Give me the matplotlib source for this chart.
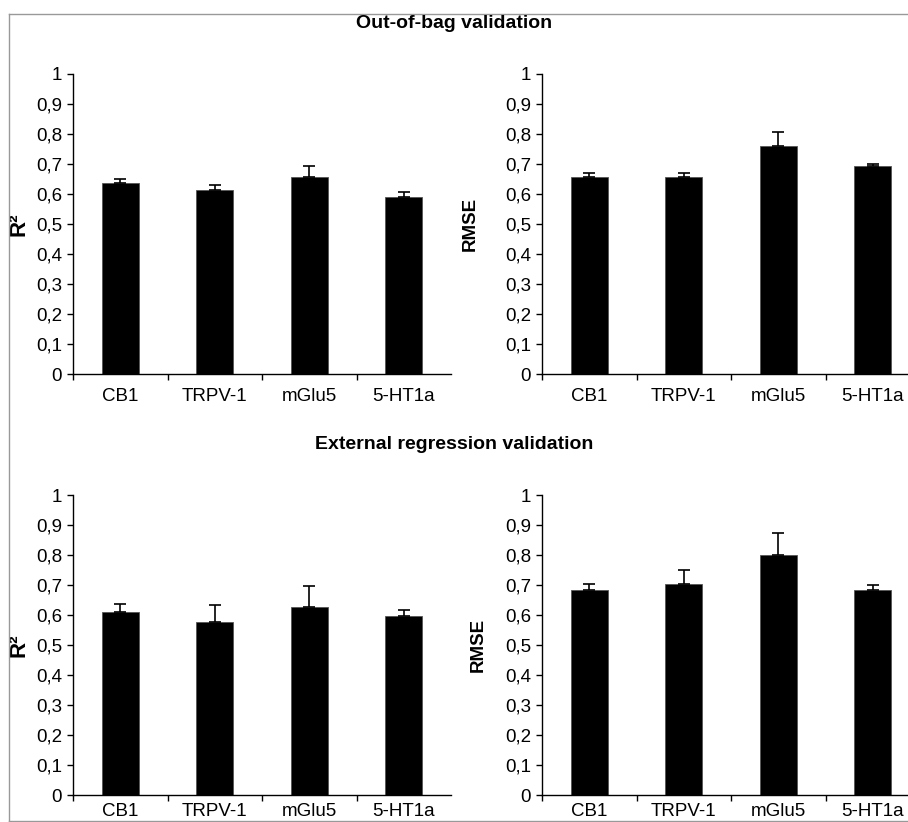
import matplotlib
matplotlib.use("Agg")
import matplotlib.pyplot as plt
from matplotlib.lines import Line2D
import numpy as np

plt.rcParams["font.family"] = ["Liberation Sans", "DejaVu Sans"]

targets = ["CB1", "TRPV-1", "mGlu5", "5-HT1a"]

# out-of-bag validation
oob_r2 = [0.635, 0.614, 0.655, 0.589]
oob_r2_err = [0.015, 0.016, 0.039, 0.016]
oob_rmse = [0.655, 0.655, 0.759, 0.694]
oob_rmse_err = [0.016, 0.016, 0.049, 0.006]

# external regression validation
ext_r2 = [0.610, 0.576, 0.626, 0.596]
ext_r2_err = [0.028, 0.059, 0.071, 0.021]
ext_rmse = [0.685, 0.705, 0.801, 0.685]
ext_rmse_err = [0.020, 0.045, 0.074, 0.016]

yticks = np.arange(0, 1.01, 0.1)
ytick_labels = ["0"] + [f"0,{i}" for i in range(1, 10)] + ["1"]

W, H = 908, 822
FS = 13.5
fig = plt.figure(figsize=(W / 100, H / 100), dpi=100)


def panel(rect, values, errs, ylabel, label_x, label_fs=FS, xpad=10):
    ax = fig.add_axes(rect)
    x = np.arange(len(targets))
    ax.bar(x, values, width=0.39, color="black", edgecolor="#555555", linewidth=0.6,
           yerr=[np.zeros(len(errs)), errs], capsize=4.5,
           error_kw=dict(elinewidth=1.2, capthick=1.2, ecolor="black"))
    ax.set_xlim(-0.5, len(targets) - 0.5)
    ax.set_ylim(0, 1)
    ax.set_yticks(yticks)
    ax.set_yticklabels(ytick_labels, fontsize=FS)
    ax.set_xticks(x)
    ax.set_xticklabels(targets, fontsize=FS)
    ax.set_xticks(np.arange(len(targets)) - 0.5, minor=True)
    ax.tick_params(axis="x", which="major", length=0, pad=xpad)
    ax.tick_params(axis="x", which="minor", length=4, width=1, direction="out")
    ax.tick_params(axis="y", length=4, width=1, pad=4)
    for s in ["top", "right"]:
        ax.spines[s].set_visible(False)
    for s in ["left", "bottom"]:
        ax.spines[s].set_linewidth(1)
    ax.set_ylabel(ylabel, fontsize=label_fs, fontweight="bold")
    ax.yaxis.set_label_coords(label_x, 0.5)
    return ax


aw = 378 / W
ah = 300 / H
panel([73 / W, 1 - 374 / H, aw, ah], oob_r2, oob_r2_err, "R²", -0.115, label_fs=16)
panel([542 / W, 1 - 374 / H, aw, ah], oob_rmse, oob_rmse_err, "RMSE", -0.167)
panel([73 / W, 1 - 795 / H, aw, ah], ext_r2, ext_r2_err, "R²", -0.115, label_fs=16, xpad=6)
panel([542 / W, 1 - 795 / H, aw, ah], ext_rmse, ext_rmse_err, "RMSE", -0.146, xpad=6)

fig.text(0.5, 1 - 23 / H, "Out-of-bag validation", ha="center", va="center",
         fontsize=14, fontweight="bold")
fig.text(0.5, 1 - 444 / H, "External regression validation", ha="center", va="center",
         fontsize=14, fontweight="bold")

# gray frame around the figure
gray = "#999999"
fig.add_artist(Line2D([9 / W, 1], [1 - 14 / H, 1 - 14 / H], color=gray, lw=1))
fig.add_artist(Line2D([9 / W, 9 / W], [0, 1 - 14 / H], color=gray, lw=1))
fig.add_artist(Line2D([9 / W, 1], [1.5 / H, 1.5 / H], color=gray, lw=1))

fig.savefig("out.png", dpi=100)
